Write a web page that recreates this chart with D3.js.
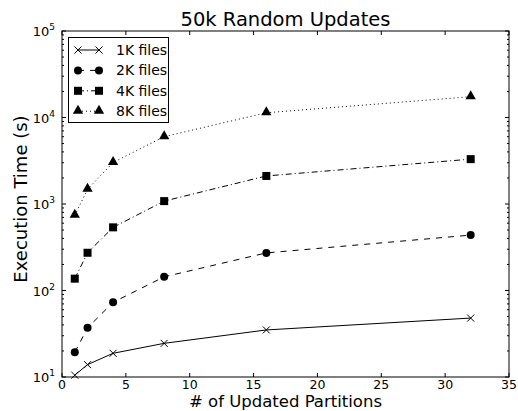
<!DOCTYPE html>
<html lang="en">
<head>
<meta charset="utf-8">
<title>50k Random Updates</title>
<script src="https://cdn.jsdelivr.net/npm/d3@7"></script>
<style>
  body { margin: 0; background: #fff; }
  text { font-family: "DejaVu Sans", sans-serif; fill: #000; }
</style>
</head>
<body>
<script>
// data
var partitions = [1, 2, 4, 8, 16, 32];
var files1k = [10.5, 13.9, 18.8, 24.5, 35, 48];
var files2k = [19.3, 37, 73, 144, 272, 437];
var files4k = [137, 273, 537, 1080, 2110, 3300];
var files8k = [740, 1480, 3020, 6000, 11350, 17400];
var seriesNames = ["1K files", "2K files", "4K files", "8K files"];
var xTicks = [0, 5, 10, 15, 20, 25, 30, 35];
var yTicks = [10, 100, 1000, 10000, 100000];

var series = [
  {name: seriesNames[0], values: files1k, marker: "x", dash: null},
  {name: seriesNames[1], values: files2k, marker: "circle", dash: "6,6"},
  {name: seriesNames[2], values: files4k, marker: "square", dash: "6,3,1,3"},
  {name: seriesNames[3], values: files8k, marker: "triangle", dash: "1,3"}
];

var width = 518, height = 411;
var margin = {top: 31, right: 9, bottom: 34, left: 62};

var svg = d3.select("body").append("svg")
  .attr("width", width)
  .attr("height", height);

var x = d3.scaleLinear().domain([0, 35]).range([margin.left, width - margin.right]);
var y = d3.scaleLog().domain([10, 100000]).range([height - margin.bottom, margin.top]);

// minor log ticks
var minor = [];
for (var p = 1; p < 5; p++) {
  for (var m = 2; m < 10; m++) minor.push(m * Math.pow(10, p));
}

var g = svg.append("g");

// ticks on left and right (inside)
minor.forEach(function(v) {
  g.append("line").attr("x1", x(0)).attr("x2", x(0) + 2)
    .attr("y1", y(v)).attr("y2", y(v)).attr("stroke", "#000");
  g.append("line").attr("x1", x(35)).attr("x2", x(35) - 2)
    .attr("y1", y(v)).attr("y2", y(v)).attr("stroke", "#000");
});
yTicks.forEach(function(v) {
  g.append("line").attr("x1", x(0)).attr("x2", x(0) + 4)
    .attr("y1", y(v)).attr("y2", y(v)).attr("stroke", "#000");
  g.append("line").attr("x1", x(35)).attr("x2", x(35) - 4)
    .attr("y1", y(v)).attr("y2", y(v)).attr("stroke", "#000");
  var t = g.append("text")
    .attr("x", x(0) - 7).attr("y", y(v) + 5)
    .attr("text-anchor", "end").style("font-size", "13px");
  t.append("tspan").text("10");
  t.append("tspan").attr("dy", -6).style("font-size", "9px").text(Math.round(Math.log10(v)));
});
xTicks.forEach(function(v) {
  g.append("line").attr("x1", x(v)).attr("x2", x(v))
    .attr("y1", y(10)).attr("y2", y(10) - 4).attr("stroke", "#000");
  g.append("line").attr("x1", x(v)).attr("x2", x(v))
    .attr("y1", y(100000)).attr("y2", y(100000) + 4).attr("stroke", "#000");
  g.append("text").attr("x", x(v)).attr("y", y(10) + 11.5)
    .attr("text-anchor", "middle").style("font-size", "12.5px").text(v);
});

// frame
svg.append("rect")
  .attr("x", x(0)).attr("y", y(100000))
  .attr("width", x(35) - x(0)).attr("height", y(10) - y(100000))
  .attr("fill", "none").attr("stroke", "#000").attr("stroke-width", 1);

var line = d3.line()
  .x(function(d, i) { return x(partitions[i]); })
  .y(function(d) { return y(d); });

function drawMarker(sel, type, cx, cy) {
  if (type === "x") {
    sel.append("path")
      .attr("d", "M" + (cx - 3.5) + "," + (cy - 3.5) + "L" + (cx + 3.5) + "," + (cy + 3.5) +
        "M" + (cx - 3.5) + "," + (cy + 3.5) + "L" + (cx + 3.5) + "," + (cy - 3.5))
      .attr("stroke", "#000").attr("stroke-width", 1);
  } else if (type === "circle") {
    sel.append("circle").attr("cx", cx).attr("cy", cy).attr("r", 4).attr("fill", "#000");
  } else if (type === "square") {
    sel.append("rect").attr("x", cx - 4).attr("y", cy - 4).attr("width", 8).attr("height", 8).attr("fill", "#000");
  } else {
    sel.append("path").attr("d", d3.symbol().type(d3.symbolTriangle).size(46)())
      .attr("transform", "translate(" + cx + "," + (cy - 0.5) + ")").attr("fill", "#000");
  }
}

series.forEach(function(s) {
  svg.append("path")
    .datum(s.values)
    .attr("d", line)
    .attr("fill", "none")
    .attr("stroke", "#000")
    .attr("stroke-width", 1)
    .attr("stroke-dasharray", s.dash);
  var mg = svg.append("g");
  s.values.forEach(function(v, i) {
    drawMarker(mg, s.marker, x(partitions[i]), y(v));
  });
});

// legend
var lg = svg.append("g");
lg.append("rect").attr("x", 68.5).attr("y", 37.5).attr("width", 100).attr("height", 85)
  .attr("fill", "#fff").attr("stroke", "#000");
series.forEach(function(s, i) {
  var ly = 50 + i * 20.4;
  lg.append("line").attr("x1", 78).attr("x2", 99).attr("y1", ly).attr("y2", ly)
    .attr("stroke", "#000").attr("stroke-dasharray", s.dash);
  drawMarker(lg, s.marker, 78, ly);
  drawMarker(lg, s.marker, 99, ly);
  lg.append("text").attr("x", 116).attr("y", ly + 5).style("font-size", "14px").text(s.name);
});

// titles
svg.append("text").attr("x", (x(0) + x(35)) / 2).attr("y", 26)
  .attr("text-anchor", "middle").style("font-size", "19.5px").text("50k Random Updates");
svg.append("text").attr("x", (x(0) + x(35)) / 2).attr("y", 406.5)
  .attr("text-anchor", "middle").style("font-size", "16.5px").text("# of Updated Partitions");
svg.append("text")
  .attr("transform", "translate(27,199) rotate(-90)")
  .attr("text-anchor", "middle").style("font-size", "18px").text("Execution Time (s)");
</script>
</body>
</html>
